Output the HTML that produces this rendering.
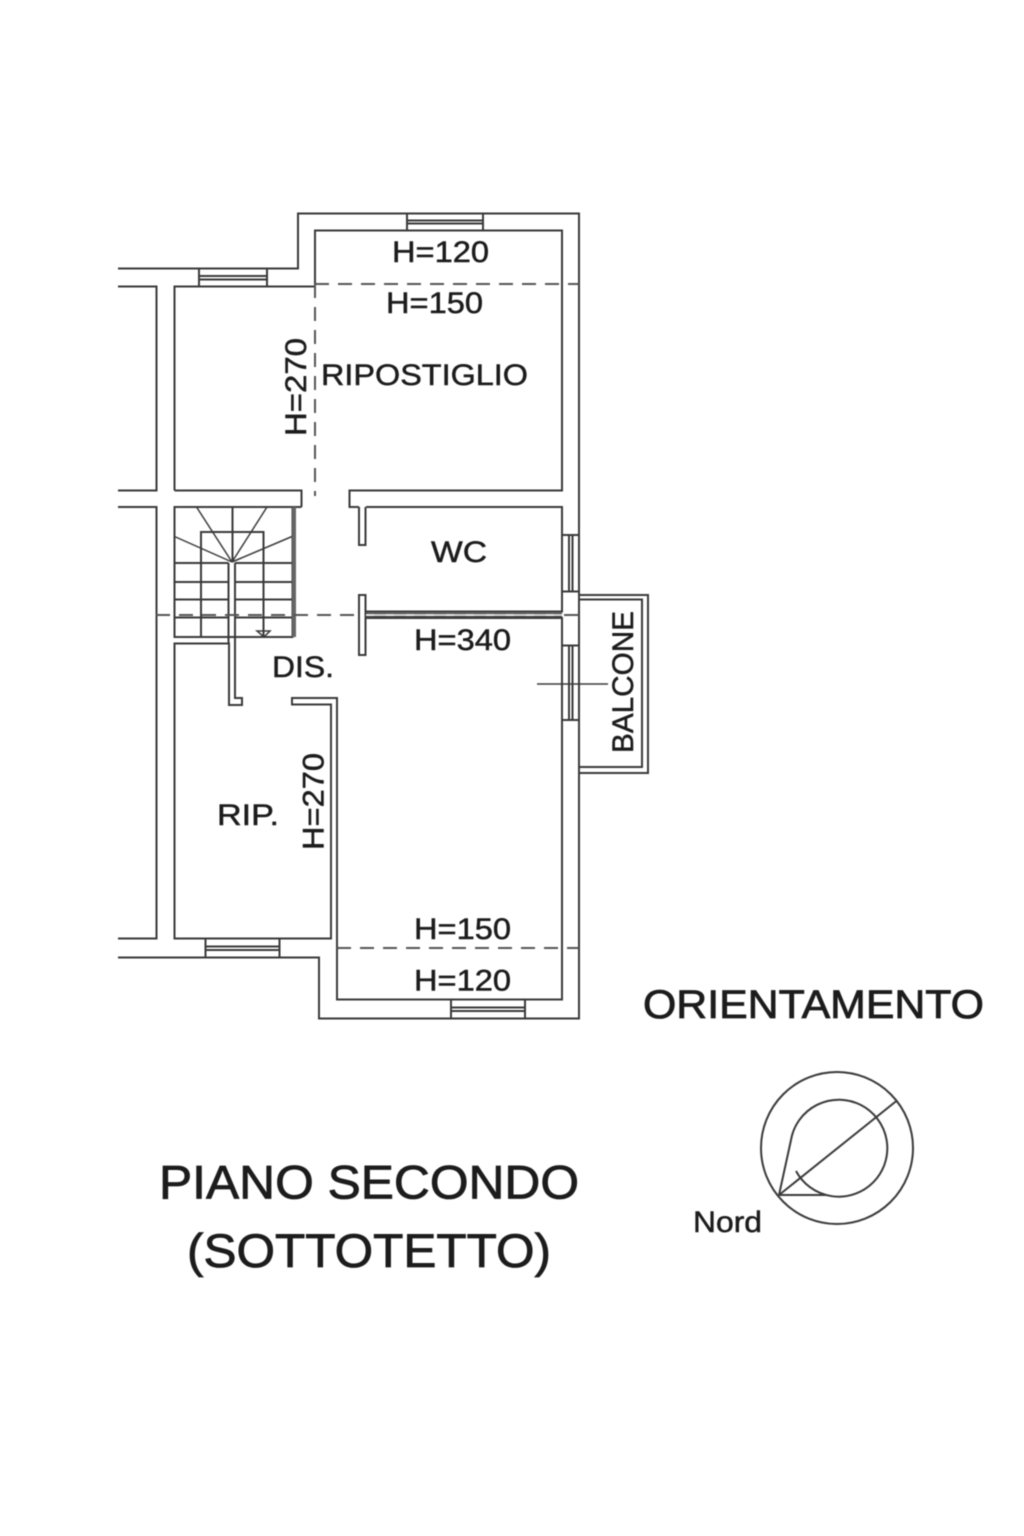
<!DOCTYPE html>
<html>
<head>
<meta charset="utf-8">
<style>
html,body{margin:0;padding:0;background:#fff;width:1024px;height:1536px;overflow:hidden}
svg{display:block;position:absolute;left:0;top:0}
text{font-family:"Liberation Sans",Arial,sans-serif;fill:#1c1c1c;stroke:#1c1c1c;stroke-width:.5}
text.big{stroke-width:.8}
</style>
</head>
<body>
<svg width="1024" height="1536" viewBox="0 0 1024 1536" xmlns="http://www.w3.org/2000/svg">
<rect width="1024" height="1536" fill="#fff"/>
<g style="filter:blur(0.45px)">
<!-- walls -->
<g fill="none" stroke="#3a3a3a" stroke-width="2">
  <!-- outer -->
  <path d="M118 268.500H298V213.500H579V1018.500H319V957.500H118"/>
  <!-- top inner room -->
  <path d="M315 285V230.500H562V490.500H349.500V507H359"/>
  <path d="M366 507H562V611.500H365.500"/>
  <path d="M365.500 618H562V999.500H337V698H292V704.500H331V938.500H174.500V643.500H229V705H242V698H235V563"/>
  <!-- left room top -->
  <path d="M174.500 490.500V286.500H315"/>
  <path d="M118 286.500H156.500V490.500H118"/>
  <path d="M174.500 490.500H301.500V507"/>
  <path d="M118 507H156.500V938.500H118"/>
  <!-- door jambs -->
  <path d="M359 507V545H365.500V507"/>
  <path d="M359 595H365.500V655H359Z"/>
  <!-- stairs -->
  <rect x="174.500" y="507" width="118" height="130"/>
  <path d="M174.500 507H301.500"/>
  <path d="M201 637V532H263.500V637"/>
  <path d="M232.500 507V562"/>
  <path d="M174.500 563H228.500M235 563H292M174.500 582H228.500M235 582H292M174.500 599.500H228.500M235 599.500H292M174.500 617.500H228.500M235 617.500H292"/>
  <path d="M228.500 563V643M235 563V637"/>
  <path d="M232 562L196.500 507M232 562L267 507M232 562L174.500 536.500M232 562L292 536.500" stroke-width="1.500"/>
  <!-- windows -->
  <path d="M407 213.500V230.500M483 213.500V230.500M407 220.500H483M407 223.500H483"/>
  <path d="M199 268.500V286.500M267 268.500V286.500M199 276H267M199 279.500H267"/>
  <path d="M205.500 938.500V957.500M279.500 938.500V957.500M205.500 946.500H279.500M205.500 950H279.500"/>
  <path d="M451 999.500V1018.500M525 999.500V1018.500M451 1007.500H525M451 1011H525"/>
  <path d="M562 535H579M562 591.500H579M569 535V591.500M572.500 535V591.500"/>
  <path d="M562 645.500H579M562 720H579M569 645.500V720M572.500 645.500V720"/>
  <!-- balcony -->
  <path d="M579 595H648V773H579"/>
  <path d="M579 599.500H642V767H579"/>
  <!-- leader -->
  <path d="M537 684H608" stroke-width="1.500"/>
  <!-- stair arrow -->
  <path d="M257 631H270L264 637Z" stroke-width="1.500"/>
</g>
<rect x="292" y="507" width="4" height="130" fill="#666"/>
<!-- dashed -->
<g fill="none" stroke="#555" stroke-width="2" stroke-dasharray="14 9">
  <path d="M315 284H579"/>
  <path d="M315 284V496"/>
  <path d="M337 948H579"/>
  <path d="M156 615H359"/>
</g>
<path d="M366 613.500H562M366 616.500H562" stroke="#444" stroke-width="1.500" fill="none"/>
<path d="M366 615H562" stroke="#fff" stroke-width="1.500" stroke-dasharray="8 12" fill="none"/>
<path d="M564 615H579" stroke="#555" stroke-width="2" fill="none"/>
<!-- text -->
<g font-size="30">
  <text x="392" y="262" textLength="97" lengthAdjust="spacingAndGlyphs">H=120</text>
  <text x="386" y="313" textLength="97" lengthAdjust="spacingAndGlyphs">H=150</text>
  <text x="321" y="385" textLength="207" lengthAdjust="spacingAndGlyphs">RIPOSTIGLIO</text>
  <text transform="translate(306 436) rotate(-90)" textLength="98" lengthAdjust="spacingAndGlyphs">H=270</text>
  <text x="431" y="562" textLength="56" lengthAdjust="spacingAndGlyphs">WC</text>
  <text x="414" y="650" textLength="97" lengthAdjust="spacingAndGlyphs">H=340</text>
  <text x="272" y="677" textLength="62" lengthAdjust="spacingAndGlyphs">DIS.</text>
  <text transform="translate(633 753) rotate(-90)" textLength="142" lengthAdjust="spacingAndGlyphs">BALCONE</text>
  <text x="217" y="825" textLength="62" lengthAdjust="spacingAndGlyphs">RIP.</text>
  <text transform="translate(323.500 850) rotate(-90)" textLength="97" lengthAdjust="spacingAndGlyphs">H=270</text>
  <text x="414" y="939" textLength="97" lengthAdjust="spacingAndGlyphs">H=150</text>
  <text x="414" y="990.500" textLength="97" lengthAdjust="spacingAndGlyphs">H=120</text>
  <text x="693" y="1232" textLength="69" lengthAdjust="spacingAndGlyphs">Nord</text>
</g>
<text class="big" x="643" y="1018" font-size="40" textLength="341" lengthAdjust="spacingAndGlyphs">ORIENTAMENTO</text>
<text class="big" x="159" y="1198.500" font-size="47" textLength="420" lengthAdjust="spacingAndGlyphs">PIANO SECONDO</text>
<text class="big" x="187" y="1267" font-size="47" textLength="364" lengthAdjust="spacingAndGlyphs">(SOTTOTETTO)</text>
<!-- compass -->
<g fill="none" stroke="#3a3a3a" stroke-width="2">
  <circle cx="837" cy="1148" r="76"/>
  <path d="M779 1195L791 1140A48.500 48.500 0 1 1 796 1171"/>
  <path d="M779 1195L897 1100.500"/>
  <path d="M779 1195H827"/>
</g>
</g>
</svg>
</body>
</html>
